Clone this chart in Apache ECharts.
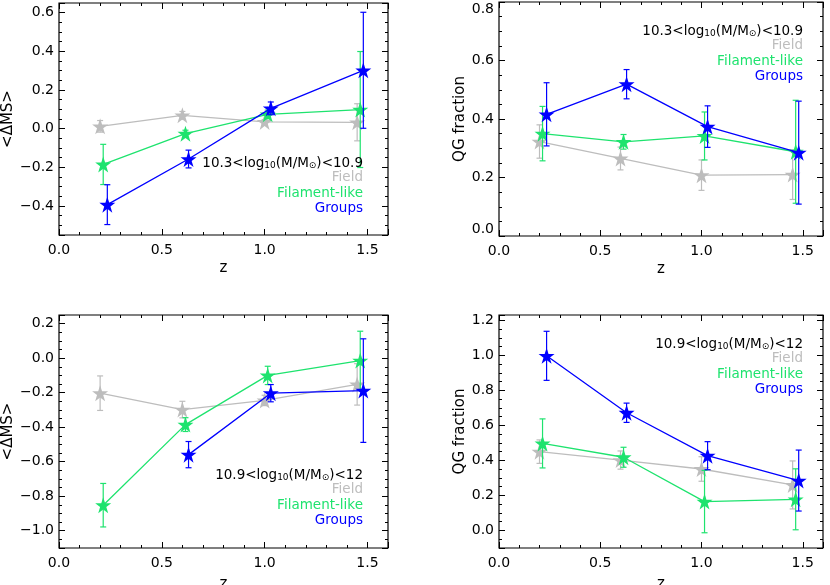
<!DOCTYPE html>
<html>
<head>
<meta charset="utf-8">
<script src="https://cdn.jsdelivr.net/npm/echarts@6/dist/echarts.min.js"></script>
<style>
  html, body { margin: 0; padding: 0; background: #fff; }
  #chart { width: 830px; height: 585px; }
</style>
</head>
<body>
<div id="chart"></div>
<script>
// redshift of each bin (the three samples are slightly offset in z)
const zField = [0.20, 0.60, 1.00, 1.45]
const zFilament = [0.215, 0.615, 1.015, 1.465]
const zGroups = [0.235, 0.63, 1.03, 1.48]

// <dMS>, 10.3 < log M < 10.9
const msLowField = [0.012, 0.069, 0.035, 0.033]
const msLowFieldErr = [0.03, 0.02, 0.012, 0.096]
const msLowFil = [-0.185, -0.026, 0.074, 0.099]
const msLowFilErr = [0.104, 0.018, 0.022, 0.30]
const msLowGrp = [-0.393, -0.157, 0.105, 0.302]
const msLowGrpErr = [0.103, 0.046, 0.033, 0.30]

// QG fraction, 10.3 < log M < 10.9
const qgLowField = [0.323, 0.265, 0.208, 0.21]
const qgLowFieldErr = [0.057, 0.039, 0.052, 0.085]
const qgLowFil = [0.35, 0.322, 0.342, 0.288]
const qgLowFilErr = [0.093, 0.025, 0.082, 0.176]
const qgLowGrp = [0.416, 0.519, 0.374, 0.285]
const qgLowGrpErr = [0.108, 0.05, 0.071, 0.176]

// <dMS>, 10.9 < log M < 12
const msHighField = [-0.203, -0.298, -0.245, -0.152]
const msHighFieldErr = [0.10, 0.048, 0.03, 0.12]
const msHighFil = [-0.852, -0.385, -0.10, -0.014]
const msHighFilErr = [0.126, 0.04, 0.053, 0.17]
const msHighGrp = [null, -0.559, -0.203, -0.188]
const msHighGrpErr = [null, 0.076, 0.05, 0.30]

// QG fraction, 10.9 < log M < 12
const qgHighField = [0.45, 0.402, 0.351, 0.26]
const qgHighFieldErr = [0.067, 0.052, 0.07, 0.137]
const qgHighFil = [0.497, 0.418, 0.165, 0.178]
const qgHighFilErr = [0.14, 0.057, 0.178, 0.174]
const qgHighGrp = [0.997, 0.672, 0.427, 0.285]
const qgHighGrpErr = [0.14, 0.055, 0.08, 0.174]

const sampleNames = ['Field', 'Filament-like', 'Groups']
const massBins = [['10.3', '10.9'], ['10.9', '12']]

const FONT = 'DejaVu Sans'
const colors = ['#bdbdbd', '#1ee36e', '#0000ff']
const STAR = 'path://M50,0L61.8,35.5L99,35.5L69,57.5L80.5,93L50,71L19.5,93L31,57.5L1,35.5L38.2,35.5Z'

const panels = [
  { grid: { left: 59, top: 3, width: 329, height: 232 }, yName: '<ΔMS>', yMin: -0.55, yMax: 0.65, split: 5,
    nameGap: 42, zGap: 26, mass: massBins[0], legendRight: 467, legendTop: 162,
    data: [[msLowField, msLowFieldErr], [msLowFil, msLowFilErr], [msLowGrp, msLowGrpErr]] },
  { grid: { left: 499, top: 2, width: 324, height: 234 }, yName: 'QG fraction', yMin: 0, yMax: 0.8, split: 4,
    nameGap: 29, zGap: 26, mass: massBins[0], legendRight: 27, legendTop: 30,
    data: [[qgLowField, qgLowFieldErr], [qgLowFil, qgLowFilErr], [qgLowGrp, qgLowGrpErr]] },
  { grid: { left: 59, top: 315, width: 329, height: 233 }, yName: '<ΔMS>', yMin: -1.1, yMax: 0.25, split: 7,
    nameGap: 42, zGap: 29, mass: massBins[1], legendRight: 467, legendTop: 474,
    data: [[msHighField, msHighFieldErr], [msHighFil, msHighFilErr], [msHighGrp, msHighGrpErr]] },
  { grid: { left: 499, top: 315, width: 324, height: 233 }, yName: 'QG fraction', yMin: -0.1, yMax: 1.23, split: 7,
    nameGap: 29, zGap: 29, mass: massBins[1], legendRight: 27, legendTop: 343,
    data: [[qgHighField, qgHighFieldErr], [qgHighFil, qgHighFilErr], [qgHighGrp, qgHighGrpErr]] }
]
const zs = [zField, zFilament, zGroups]

function fmt(step) {
  return function(v) {
    const k = v / step
    if (Math.abs(k - Math.round(k)) > 1e-6) return ''
    return v.toFixed(1).replace('-', '\u2212')
  }
}

const tickMajor = { inside: true, length: 6, lineStyle: { color: '#000', width: 1 } }
const tickMinor = { inside: true, length: 3, lineStyle: { color: '#000', width: 1 } }
const labelStyle = { color: '#000', fontFamily: FONT, fontSize: 14 }
const nameStyle = { color: '#000', fontFamily: FONT, fontSize: 15 }

const grid = []
const xAxis = []
const yAxis = []
const series = []
const title = []

panels.forEach((p, gi) => {
  grid.push(Object.assign({ show: true, borderColor: '#000', borderWidth: 1.2, backgroundColor: 'transparent',
    outerBoundsMode: 'none', containLabel: false }, p.grid))

  const xb = { gridIndex: gi, type: 'value', min: 0, max: 1.6, splitLine: { show: false }, axisLine: { show: false, onZero: false } }
  xAxis.push(
    Object.assign({}, xb, { position: 'bottom', interval: 0.5, axisTick: tickMajor,
      axisLabel: { formatter: fmt(0.5), margin: 8, ...labelStyle },
      name: 'z', nameLocation: 'middle', nameGap: p.zGap, nameTextStyle: nameStyle }),
    Object.assign({}, xb, { position: 'bottom', interval: 0.1, axisTick: tickMinor, axisLabel: { show: false } }),
    Object.assign({}, xb, { position: 'top', interval: 0.5, axisTick: tickMajor, axisLabel: { show: false } }),
    Object.assign({}, xb, { position: 'top', interval: 0.1, axisTick: tickMinor, axisLabel: { show: false } })
  )

  const yb = { gridIndex: gi, type: 'value', min: p.yMin, max: p.yMax, splitLine: { show: false }, axisLine: { show: false, onZero: false } }
  yAxis.push(
    Object.assign({}, yb, { position: 'left', splitNumber: p.split, axisTick: tickMajor,
      axisLabel: { formatter: fmt(0.2), margin: 5, verticalAlignMinLabel: 'bottom', verticalAlignMaxLabel: 'top', ...labelStyle },
      name: p.yName, nameLocation: 'middle', nameGap: p.nameGap, nameTextStyle: nameStyle }),
    Object.assign({}, yb, { position: 'left', interval: 0.05, axisTick: tickMinor, axisLabel: { show: false } }),
    Object.assign({}, yb, { position: 'right', splitNumber: p.split, axisTick: tickMajor, axisLabel: { show: false } }),
    Object.assign({}, yb, { position: 'right', interval: 0.05, axisTick: tickMinor, axisLabel: { show: false } })
  )

  p.data.forEach(([vals, errs], k) => {
    const z = zs[k]
    const color = colors[k]
    const pts = z.map((x, i) => [x, vals[i]]).filter(d => d[1] != null)
    const bars = z.map((x, i) => vals[i] == null ? null : [x, vals[i] - errs[i], vals[i] + errs[i]]).filter(Boolean)
    series.push({
      type: 'custom', xAxisIndex: 4 * gi, yAxisIndex: 4 * gi, z: 2 + 2 * k,
      data: bars, encode: { x: 0, y: [1, 2] },
      renderItem(params, api) {
        const lo = api.coord([api.value(0), api.value(1)])
        const hi = api.coord([api.value(0), api.value(2)])
        const w = 3
        const style = { stroke: color, lineWidth: 1.2 }
        return { type: 'group', children: [
          { type: 'line', shape: { x1: lo[0], y1: lo[1], x2: hi[0], y2: hi[1] }, style },
          { type: 'line', shape: { x1: lo[0] - w, y1: lo[1], x2: lo[0] + w, y2: lo[1] }, style },
          { type: 'line', shape: { x1: hi[0] - w, y1: hi[1], x2: hi[0] + w, y2: hi[1] }, style }
        ] }
      }
    })
    series.push({
      type: 'line', name: sampleNames[k], xAxisIndex: 4 * gi, yAxisIndex: 4 * gi, z: 3 + 2 * k,
      data: pts, symbol: STAR, symbolSize: 16, showAllSymbol: true,
      lineStyle: { color, width: 1.3 }, itemStyle: { color }
    })
  })

  // mass bin label + sample names, right aligned inside the panel
  const lines = [
    { text: `{a|${p.mass[0]}<log}{s|10}{a|(M/M}{s|⊙}{a|)<${p.mass[1]}}`, color: '#000' },
    { text: sampleNames[0], color: colors[0] },
    { text: sampleNames[1], color: colors[1] },
    { text: sampleNames[2], color: colors[2] }
  ]
  lines.forEach((l, j) => {
    title.push({
      text: l.text, right: p.legendRight, top: p.legendTop + j * 15.5 - 8, padding: 0,
      textStyle: { color: l.color, fontFamily: FONT, fontSize: 13.5, fontWeight: 'normal', lineHeight: 16,
        rich: {
          a: { color: '#000', fontFamily: FONT, fontSize: 13.5, lineHeight: 16, verticalAlign: 'bottom' },
          s: { color: '#000', fontFamily: FONT, fontSize: 9, lineHeight: 16, verticalAlign: 'bottom', padding: [5, 0, 0, 0] }
        } }
    })
  })
})

const chart = echarts.init(document.getElementById('chart'), null, { renderer: 'canvas' })
chart.setOption({ animation: false, backgroundColor: '#fff', title, grid, xAxis, yAxis, series })
</script>
</body>
</html>
